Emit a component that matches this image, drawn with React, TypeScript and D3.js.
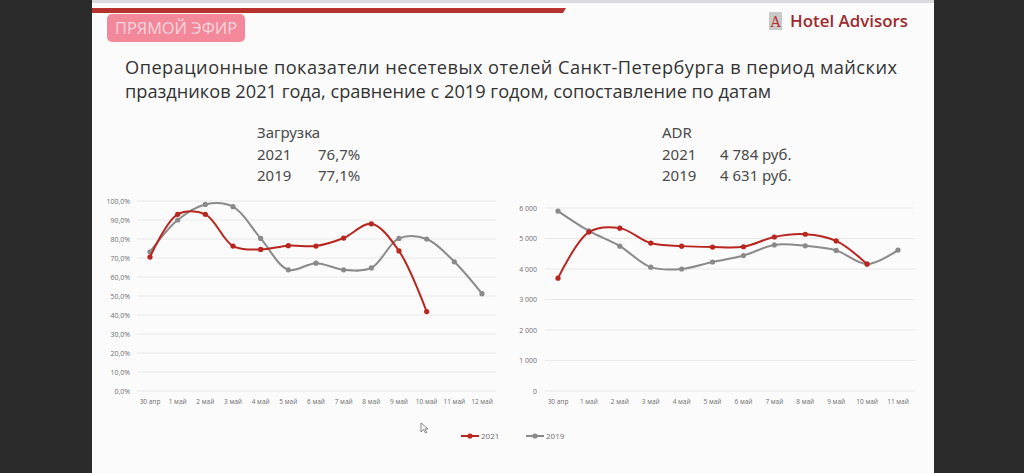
import React from "react";
import * as d3 from "d3";

const occCats = ["30 апр", "1 май", "2 май", "3 май", "4 май", "5 май", "6 май", "7 май", "8 май", "9 май", "10 май", "11 май", "12 май"];
const occ2021: (number | null)[] = [70.5, 93, 93, 76.3, 74.5, 76.5, 76.3, 80.5, 88, 73.7, 41.8, null, null];
const occ2019: (number | null)[] = [73.2, 90, 98.2, 97, 80.3, 63.8, 67.3, 63.8, 64.8, 80.3, 80, 68, 51.2];
const occTicks = [0, 10, 20, 30, 40, 50, 60, 70, 80, 90, 100];

const adrCats = ["30 апр", "1 май", "2 май", "3 май", "4 май", "5 май", "6 май", "7 май", "8 май", "9 май", "10 май", "11 май"];
const adr2021: (number | null)[] = [3700, 5210, 5340, 4850, 4750, 4720, 4730, 5050, 5140, 4920, 4160, null];
const adr2019: (number | null)[] = [5900, 5250, 4750, 4060, 4000, 4230, 4440, 4790, 4760, 4610, 4160, 4620];
const adrTicks = [0, 1000, 2000, 3000, 4000, 5000, 6000];

const RED = "#b8261f";
const GRAY = "#8a8a8a";

type ChartProps = {
  cats: string[];
  s1: (number | null)[];
  s2: (number | null)[];
  ticks: number[];
  yMax: number;
  x0: number;
  x1: number;
  y0: number;
  y1: number;
  labelX: number;
  gridX0: number;
  gridX1: number;
  fmt: (v: number) => string;
};

function Chart(p: ChartProps) {
  const x = d3.scalePoint<string>().domain(p.cats).range([p.x0, p.x1]);
  const y = d3.scaleLinear().domain([0, p.yMax]).range([p.y0, p.y1]);
  const line = d3
    .line<number | null>()
    .defined((d) => d !== null)
    .x((_, i) => x(p.cats[i]) as number)
    .y((d) => y(d as number))
    .curve(d3.curveCatmullRom.alpha(0.5));
  const series = [
    { vals: p.s2, color: GRAY },
    { vals: p.s1, color: RED },
  ];
  return (
    <g>
      {p.ticks.map((t) => (
        <g key={t}>
          <line x1={p.gridX0} x2={p.gridX1} y1={y(t)} y2={y(t)} stroke="#e4e4e4" strokeWidth={0.8} />
          <text x={p.labelX} y={y(t) + 2.5} textAnchor="end" fontSize={7} fill="#6f6f6f" fontFamily="'Open Sans', sans-serif">
            {p.fmt(t)}
          </text>
        </g>
      ))}
      {p.cats.map((c) => (
        <text key={c} x={x(c)} y={p.y0 + 13} textAnchor="middle" fontSize={6.5} fill="#6f6f6f" fontFamily="'Open Sans', sans-serif">
          {c}
        </text>
      ))}
      {series.map((s, si) => (
        <g key={si}>
          <path d={line(s.vals) || ""} fill="none" stroke={s.color} strokeWidth={2} />
          {s.vals.map((v, i) =>
            v === null ? null : <circle key={i} cx={x(p.cats[i])} cy={y(v)} r={2.6} fill={s.color} />
          )}
        </g>
      ))}
    </g>
  );
}

export default function App() {
  const pct = (v: number) => v.toFixed(1).replace(".", ",") + "%";
  const num = (v: number) => d3.format(",")(v).replace(/,/g, "\u00a0");
  return (
    <svg width={1024} height={473} style={{ position: "absolute", left: 0, top: 0 }} xmlns="http://www.w3.org/2000/svg">
      <rect x={0} y={0} width={1024} height={473} fill="#2b2b2b" />
      <rect x={92} y={0} width={842} height={473} fill="#fbfbfb" />
      <rect x={92} y={0} width={842} height={3} fill="#d8dcdc" />
      <polygon points="92,8 566,8 563,13 92,13" fill="#b5322e" />
      {/* badge */}
      <rect x={107} y={14} width={138} height={28} rx={5} fill="#f2889a" />
      <text x={176} y={33.5} textAnchor="middle" fontSize={15.5} fill="#fbd5dc" fontFamily="'Open Sans', sans-serif" textLength={122} lengthAdjust="spacingAndGlyphs">
        ПРЯМОЙ ЭФИР
      </text>
      {/* logo */}
      <rect x={769} y={12} width={13} height={18} fill="#c9c9c9" />
      <text x={775.5} y={27} textAnchor="middle" fontSize={14} fill="#b5322e" fontFamily="'DejaVu Serif', serif">
        A
      </text>
      <text x={790} y={27} fontSize={16.5} fontWeight={600} fill="#9e2a2e" fontFamily="'Open Sans', sans-serif" textLength={118} lengthAdjust="spacingAndGlyphs">
        Hotel Advisors
      </text>
      {/* title */}
      <text x={125} y={74} fontSize={18.2} fill="#333" fontFamily="'Open Sans', sans-serif" textLength={772} lengthAdjust="spacing">
        Операционные показатели несетевых отелей Санкт-Петербурга в период майских
      </text>
      <text x={125} y={98} fontSize={18.2} fill="#333" fontFamily="'Open Sans', sans-serif">
        праздников 2021 года, сравнение с 2019 годом, сопоставление по датам
      </text>
      {/* headers */}
      <g fontSize={15} fill="#4a4a4a" fontFamily="'Noto Sans', sans-serif">
        <text x={257} y={138}>Загрузка</text>
        <text x={257} y={160}>2021</text>
        <text x={318} y={160}>76,7%</text>
        <text x={257} y={181}>2019</text>
        <text x={318} y={181}>77,1%</text>
        <text x={662} y={138}>ADR</text>
        <text x={662} y={160}>2021</text>
        <text x={720} y={160}>4 784 руб.</text>
        <text x={662} y={181}>2019</text>
        <text x={720} y={181}>4 631 руб.</text>
      </g>
      <Chart cats={occCats} s1={occ2021} s2={occ2019} ticks={occTicks} yMax={100} x0={150} x1={482} y0={391} y1={201} labelX={130} gridX0={137} gridX1={496} fmt={pct} />
      <Chart cats={adrCats} s1={adr2021} s2={adr2019} ticks={adrTicks} yMax={6000} x0={558} x1={898} y0={391} y1={208} labelX={537} gridX0={545} gridX1={915} fmt={num} />
      {/* legend */}
      <g fontFamily="'Open Sans', sans-serif" fontSize={8} fill="#6f6f6f">
        <line x1={461} x2={479} y1={436} y2={436} stroke={RED} strokeWidth={2} />
        <circle cx={470} cy={436} r={2.6} fill={RED} />
        <text x={481} y={439}>2021</text>
        <line x1={526} x2={544} y1={436} y2={436} stroke={GRAY} strokeWidth={2} />
        <circle cx={535} cy={436} r={2.6} fill={GRAY} />
        <text x={546} y={439}>2019</text>
      </g>
      {/* cursor */}
      <path d="M421,423 L421,432 L423.5,429.5 L425.5,433 L426.8,432.3 L424.8,429 L428,429 Z" fill="#fff" stroke="#555" strokeWidth={0.7} />
    </svg>
  );
}
